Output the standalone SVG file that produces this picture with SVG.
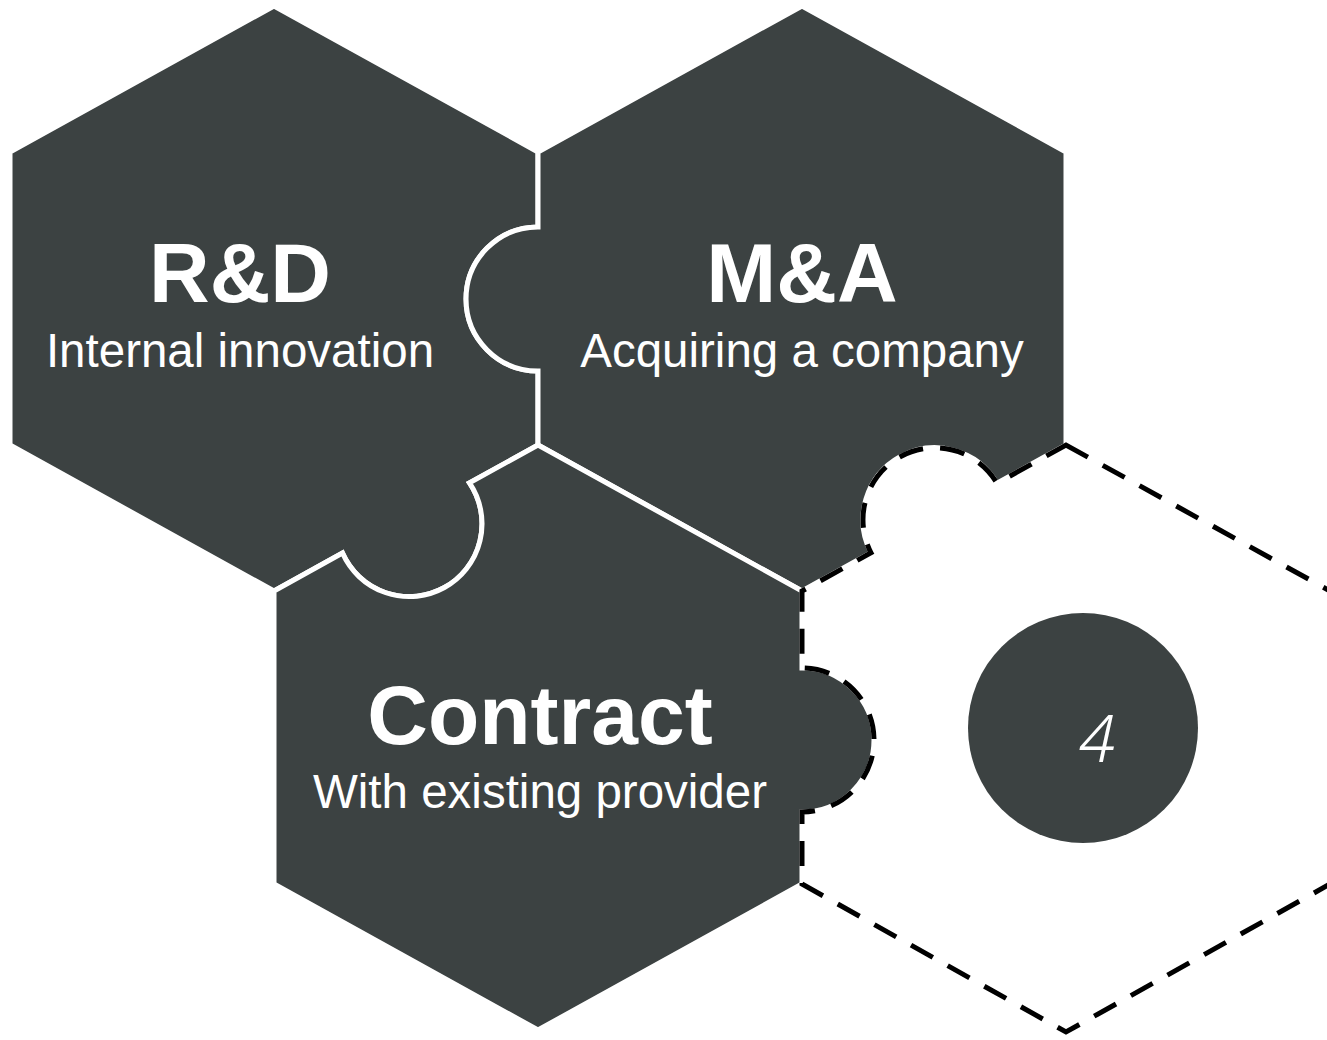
<svg xmlns="http://www.w3.org/2000/svg" width="1327" height="1040" viewBox="0 0 1327 1040">
  <style>
    .piece { fill: #3c4242; stroke: #ffffff; stroke-width: 5; stroke-linejoin: miter; }
    .open { fill: #ffffff; stroke: #000000; stroke-width: 5; stroke-dasharray: 25 17; stroke-linejoin: miter; }
    .title { font-family: "Liberation Sans", Arial, sans-serif; font-weight: bold; font-size: 84px; fill: #ffffff; text-anchor: middle; }
    .sub { font-family: "Liberation Sans", Arial, sans-serif; font-size: 47.5px; fill: #ffffff; text-anchor: middle; }
    .num { font-family: "Noto Sans", "DejaVu Sans", sans-serif; font-weight: 300; font-style: italic; font-size: 66px; fill: #ffffff; text-anchor: middle; }
  </style>
  <rect width="1327" height="1040" fill="#ffffff"/>

  <g id="node-rd">
    <path class="piece" d="M274,6 L538,152 L538,227 A72,72 0 0,0 538,371 L538,445 L469.5,482.9 A72.85,72.85 0 1,1 342.5,553.1 L274,591 L10,445 L10,152 Z"/>
    <text class="title" x="240" y="302">R&amp;D</text>
    <text class="sub" x="240" y="367">Internal innovation</text>
  </g>

  <g id="node-ma">
    <path class="piece" d="M802,6 L1066,152 L1066,445 L997,483.2 A72,72 0 0,0 871,552.8 L802,591 L538,445 L538,371 A72,72 0 0,1 538,227 L538,152 Z"/>
    <text class="title" x="802" y="302">M&amp;A</text>
    <text class="sub" x="802" y="367">Acquiring a company</text>
  </g>

  <g id="node-contract">
    <path class="piece" d="M538,445 L802,591 L802,668 A72,72 0 0,1 802,812 L802,884 L538,1030 L274,884 L274,591 L342.5,553.1 A72.85,72.85 0 1,0 469.5,482.9 Z"/>
    <text class="title" x="540" y="744">Contract</text>
    <text class="sub" x="540" y="808">With existing provider</text>
  </g>

  <g id="node-4">
    <path class="open" d="M1066,445 L1330,591 L1330,884 L1066,1032 L802,884 L802,812 A72,72 0 0,0 802,668 L802,591 L871,552.8 A72,72 0 0,1 997,483.2 Z"/>
    <circle cx="1083" cy="728" r="115" fill="#3c4242"/>
    <text class="num" x="1097" y="762">4</text>
  </g>

  <g id="connectors"></g>
</svg>
